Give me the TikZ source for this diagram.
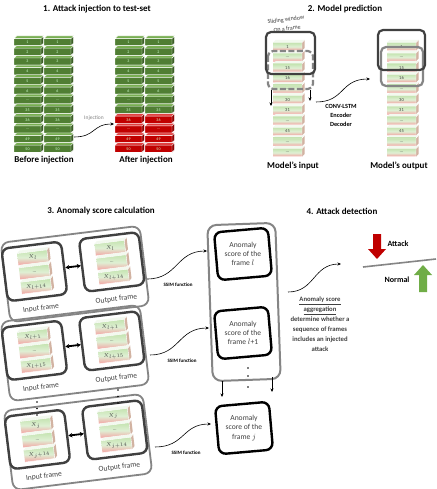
\documentclass[tikz,border=0pt]{standalone}
\usepackage{fontspec}
\setmainfont{Carlito}
\usetikzlibrary{arrows.meta,shadings}
\definecolor{gf}{HTML}{507E33}
\definecolor{gt}{HTML}{78AE52}
\definecolor{rf}{HTML}{C00000}
\definecolor{rt}{HTML}{E04040}
\definecolor{dk}{HTML}{404040}
\definecolor{md}{HTML}{858585}
\definecolor{lg}{HTML}{C4E3B0}
\definecolor{pk}{HTML}{F4A2A2}
\definecolor{ga}{HTML}{70AD47}

% solid brick: name, x, y, label, front, top
\newcommand{\sbrick}[6]{%
  \fill[#6] (#2,#3+2.6) -- (#2+2.6,#3) -- (#2+29.6,#3) -- (#2+27,#3+2.6) -- cycle;
  \fill[#5] (#2,#3+2.6) rectangle (#2+27,#3+9.7);
  \fill[#5!75!black] (#2+27,#3+2.6) -- (#2+29.6,#3) -- (#2+29.6,#3+7.1) -- (#2+27,#3+9.7) -- cycle;
  \draw[white,line width=0.4pt] (#2,#3+2.6) -- (#2+2.6,#3) -- (#2+29.6,#3) -- (#2+29.6,#3+7.1) -- (#2+27,#3+9.7) -- (#2,#3+9.7) -- cycle
    (#2,#3+2.6) -- (#2+27,#3+2.6) -- (#2+29.6,#3) (#2+27,#3+2.6) -- (#2+27,#3+9.7);
  \node[brlab] (#1) at (#2+13.5,#3+6.2) {#4};
}
% gradient brick: name, x, y, w, h, label
\newcommand{\gbrick}[6]{%
  \fill[white!80!lg] (#2,#3+2.6) -- (#2+2.6,#3) -- (#2+#4+2.6,#3) -- (#2+#4,#3+2.6) -- cycle;
  \shade[top color=lg, bottom color=pk, middle color=white!45!lg] (#2,#3+2.6) rectangle (#2+#4,#3+#5);
  \fill[pk!60!lg!85!gray] (#2+#4,#3+2.6) -- (#2+#4+2.6,#3) -- (#2+#4+2.6,#3+#5-2.6) -- (#2+#4,#3+#5) -- cycle;
  \draw[white,line width=0.4pt] (#2,#3+2.6) -- (#2+#4,#3+2.6) -- (#2+#4+2.6,#3)
    (#2+#4,#3+2.6) -- (#2+#4,#3+#5) (#2,#3+#5) -- (#2+#4,#3+#5);
  \node[glab] (#1) at (#2+#4/2,#3+1.3+#5/2) {#6};
}
% block of section 3: name, cx, cy, in-first, in-last, out-first, out-last
\newcommand{\scoreblock}[7]{%
\begin{scope}[shift={(#2,#3)}]
\begin{scope}[rotate around={7:(0,0)}, transform shape]
  \node[outbox] (#1) at (0,0) {};
  \node[inbox] (#1i) at (-40,-7.5) {};
  \node[inbox] (#1o) at (38,-7.5) {};
  \gbrick{#1ia}{-55}{-30}{30}{14.5}{#4}
  \gbrick{#1ib}{-55}{-15.5}{30}{14.5}{\ldots}
  \gbrick{#1ic}{-55}{-1}{30}{14.5}{#5}
  \gbrick{#1oa}{23}{-30}{30}{14.5}{#6}
  \gbrick{#1ob}{23}{-15.5}{30}{14.5}{\ldots}
  \gbrick{#1oc}{23}{-1}{30}{14.5}{#7}
  \draw[{Stealth[length=4pt,width=4.5pt]}-{Stealth[length=4pt,width=4.5pt]}, line width=1.8pt] (#1i) -- (#1o);
  \node[framelab] (#1il) at (-38,30) {Input frame};
  \node[framelab] (#1ol) at (38,30) {Output frame};
\end{scope}
\end{scope}}

\begin{document}
\begin{tikzpicture}[x=1pt,y=-1pt,
  title/.style={font=\fontsize{9}{10}\selectfont\bfseries, inner sep=0pt},
  lab/.style={font=\fontsize{9}{10}\selectfont\bfseries, inner sep=0pt},
  brlab/.style={font=\fontsize{4}{4}\selectfont, text=white!80!green, inner sep=0pt},
  glab/.style={font=\fontsize{4.5}{5}\selectfont, text=dk, inner sep=0pt},
  small/.style={font=\fontsize{5.5}{7}\selectfont, text=dk, inner sep=0pt},
  framelab/.style={font=\fontsize{7.5}{8}\selectfont, text=dk, inner sep=0pt},
  ssim/.style={font=\fontsize{5}{6}\selectfont\bfseries, inner sep=0pt},
  model/.style={font=\fontsize{6.3}{7}\selectfont\bfseries, inner sep=0pt},
  inbox/.style={draw=dk, line width=2.4pt, rounded corners=7pt, fill=white, minimum width=60pt, minimum height=53pt, inner sep=0pt},
  outbox/.style={draw=md, line width=1.8pt, rounded corners=8pt, minimum width=140pt, minimum height=80pt, inner sep=0pt},
  scoreframe/.style={draw=black, line width=2.4pt, rounded corners=7pt, fill=white, minimum width=54pt, minimum height=48pt, inner sep=0pt, rotate=5},
  scoretext/.style={align=center, font=\fontsize{7.6}{9.2}\selectfont, text=dk, inner sep=0pt},
  arr/.style={-{Stealth[length=3.5pt,width=3pt]}, line width=0.6pt},
  win/.style={line width=2.2pt, rounded corners=5pt},
]
\fill[white] (0,0) rectangle (436,489);
\useasboundingbox (0,0) rectangle (436,489);

% ---------- Section 1 ----------
\node[title] (t1) at (97,9) {1. Attack injection to test-set};
\foreach \lab [count=\i from 0] in {1,2,3,4,5,6,{\ldots},35,36,{\ldots},49,50}{
  \sbrick{ba\i}{14}{36+\i*9.7}{\lab}{gf}{gt}
  \sbrick{bb\i}{44}{36+\i*9.7}{\lab}{gf}{gt}
  \ifnum\i>7
    \sbrick{aa\i}{115}{36+\i*9.7}{\lab}{rf}{rt}
    \sbrick{ab\i}{145}{36+\i*9.7}{\lab}{rf}{rt}
  \else
    \sbrick{aa\i}{115}{36+\i*9.7}{\lab}{gf}{gt}
    \sbrick{ab\i}{145}{36+\i*9.7}{\lab}{gf}{gt}
  \fi
}
\node[lab] (bef) at (44,160) {Before injection};
\node[lab] (aft) at (146,160) {After injection};
\coordinate (i1) at (74,137);
\coordinate (i2) at (114,124);
\draw[arr] (i1) .. controls (96,137) and (92,124) .. (i2);
\node[small, text=md] (inj) at (94,118) {Injection};

% ---------- Section 2 ----------
\node[title] (t2) at (345,9) {2. Model prediction};
\foreach \lab [count=\i from 0] in {1,{\ldots},15,16,{\ldots},30,31,{\ldots},45,{\ldots},{\ldots}}{
  \gbrick{mi\i}{273}{40+\i*10.6}{29}{10.6}{\lab}
  \gbrick{mo\i}{387}{40+\i*10.6}{29}{10.6}{\lab}
}
\draw[win, md, dash pattern=on 6pt off 2.5pt] (268,51) rectangle (313,89);
\draw[win, dk] (266,32) rectangle (315,74);
\coordinate (w1) at (271,90); \coordinate (w2) at (271,106);
\coordinate (w3) at (310,90); \coordinate (w4) at (310,101);
\draw[arr] (w1) -- (w2);
\draw[arr] (w3) -- (w4);
\draw[win, md] (381,47) rectangle (423,86);
\draw[win, dk] (378,30) rectangle (425,70);
\node[small, rotate=7, font=\fontsize{6}{7}\selectfont] (sw1) at (286,20) {Sliding window};
\node[small, rotate=7, font=\fontsize{6}{7}\selectfont] (sw2) at (287,28.5) {On a frame};
\coordinate (m1) at (316,102);
\coordinate (m2) at (370,79);
\draw[arr] (m1) .. controls (345,102) and (340,79) .. (m2);
\node[model] (cl) at (341,106) {CONV-LSTM};
\node[model] (en) at (341,115) {Encoder};
\node[model] (de) at (341,124) {Decoder};
\node[lab] (min) at (293,166) {Model's input};
\node[lab] (mout) at (399,166) {Model's output};

% ---------- Section 3 ----------
\node[title] (t3) at (101,211) {3. Anomaly score calculation};
\scoreblock{bk1}{75}{274}{$X_l$}{$X_{l+14}$}{$X_l$}{$X_{l+14}$}
\scoreblock{bk2}{75}{353}{$X_{l+1}$}{$X_{l+15}$}{$X_{l+1}$}{$X_{l+15}$}
\scoreblock{bk3}{78}{442}{$X_j$}{$X_{j+14}$}{$X_j$}{$X_{j+14}$}
\foreach \yy in {402,408.5,415} {\fill[black] (37,\yy) circle (0.8);}
\foreach \yy in {390,396.5,403} {\fill[black] (118,\yy) circle (0.8);}

\node[draw=md, line width=2pt, rounded corners=9pt, minimum width=68pt, minimum height=156pt, rotate=2] (cont) at (244,302) {};
\node[scoreframe] (sf1) at (243,254) {};
\node[scoretext] (sc1) at (243,254) {Anomaly\\score of the\\frame $l$};
\node[scoreframe] (sf2) at (243,333) {};
\node[scoretext] (sc2) at (243,333) {Anomaly\\score of the\\frame $l$+1};
\node[scoreframe] (sf3) at (244,428) {};
\node[scoretext] (sc3) at (244,428) {Anomaly\\score of the\\frame $j$};
\foreach \yy in {368,376,387} {\fill[black] (248,\yy) circle (0.8);}
\coordinate (da1) at (222,381); \coordinate (db1) at (222,397);
\coordinate (da2) at (272,377); \coordinate (db2) at (272,392);
\draw[arr] (da1) -- (db1);
\draw[arr] (da2) -- (db2);

\coordinate (c1s) at (147,279); \coordinate (c1e) at (207,251);
\coordinate (c2s) at (150,355); \coordinate (c2e) at (209,328);
\coordinate (c3s) at (155,447); \coordinate (c3e) at (211,424);
\draw[arr] (c1s) .. controls (178,279) and (176,251) .. (c1e);
\draw[arr] (c2s) .. controls (180,355) and (178,328) .. (c2e);
\draw[arr] (c3s) .. controls (185,447) and (182,424) .. (c3e);
\node[ssim] (ss1) at (178,285) {SSIM function};
\node[ssim] (ss2) at (182,361) {SSIM function};
\node[ssim] (ss3) at (186,453) {SSIM function};

% ---------- Section 4 ----------
\node[title] (t4) at (342,211) {4. Attack detection};
\coordinate (g1) at (288,292);
\coordinate (g2) at (341,264);
\draw[arr] (g1) .. controls (315,292) and (313,264) .. (g2);
\node[align=center, font=\fontsize{6.7}{10}\selectfont\bfseries, text=dk, inner sep=0pt] (agg) at (320,324)
  {\underline{Anomaly score}\\\underline{aggregation}\\determine whether a\\sequence of frames\\includes an injected\\attack};
\coordinate (l1) at (363,267);
\coordinate (l2) at (436,259);
\draw[md, line width=1.6pt] (l1) -- (l2);
\fill[rf] (373,234) -- (381,234) -- (381,249) -- (386,249) -- (377,259) -- (368,249) -- (373,249) -- cycle;
\fill[ga] (419,292) -- (427,292) -- (427,275) -- (432,275) -- (423,265) -- (414,275) -- (419,275) -- cycle;
\node[lab, font=\fontsize{8}{9}\selectfont\bfseries] (atk) at (398,244) {Attack};
\node[lab, font=\fontsize{8}{9}\selectfont\bfseries] (nrm) at (397,280) {Normal};
\end{tikzpicture}
\end{document}
